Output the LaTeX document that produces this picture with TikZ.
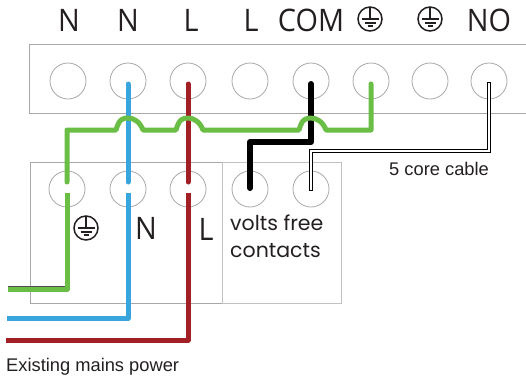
\documentclass[tikz,border=0pt]{standalone}
\usepackage{fontspec}
\setmainfont{Open Sans}
\newfontfamily\geofont{Poppins}
\newfontfamily\capfont{Liberation Sans}
\definecolor{wiregreen}{HTML}{6ABD45}
\definecolor{wireblue}{HTML}{38A5DC}
\definecolor{wirered}{HTML}{A21F26}
\definecolor{boxgray}{HTML}{A8A8A8}
\definecolor{inkgray}{HTML}{231F20}
\tikzset{
	terminal/.style={circle, draw=boxgray, line width=.8pt, minimum size=36pt, inner sep=0pt},
	termlabel/.style={text=inkgray, inner sep=0pt, xscale=.93, font=\fontsize{31}{31}\selectfont},
	captext/.style={text=inkgray, inner sep=0pt, anchor=base west, font=\capfont\fontsize{18.3}{18.3}\selectfont},
	housing/.style={draw=boxgray, line width=.9pt},
	wire/.style={line width=5pt, line join=round, line cap=round},
	earth/.pic={
		\draw[inkgray, line width=1.5pt] (0,0) circle (12);
		\draw[inkgray, line width=1.3pt] (0,-11)--(0,0) (-8.5,0)--(8.5,0) (-5.5,4)--(5.5,4) (-2.5,7)--(2.5,7);
	}
}
\newcommand{\hump}[1]{-- (#1-12,130) .. controls (#1-9,119) and (#1-5,118) .. (#1,118) .. controls (#1+6,118) and (#1+12,122) .. (#1+15,130)}
\begin{document}
\begin{tikzpicture}[x=1pt, y=-1pt]
	\useasboundingbox (0,0) rectangle (526,375);
	% housings
	\draw[housing] (526,44)--(29,44)--(29,113)--(526,113);
	\draw[housing] (30,162) rectangle (222,303);
	\draw[housing, draw=boxgray!70] (222,162) rectangle (341,303);
	% terminals
	\foreach \x/\name in {68/t1,128/t2,188/t3,250/t4,311/t5,371/t6,430/t7,489/t8}
		\node[terminal] (\name) at (\x,81) {};
	\foreach \x/\name in {67/b1,128/b2,188/b3,250/b4,311/b5}
		\node[terminal] (\name) at (\x,189) {};
	% labels
	\node[termlabel] (lab1) at (69,20) {N};
	\node[termlabel] (lab2) at (128,20) {N};
	\node[termlabel] (lab3) at (191,20) {L};
	\node[termlabel] (lab4) at (251,20) {L};
	\node[termlabel] (lab5) at (311,20) {COM};
	\node[termlabel] (lab8) at (489,20) {NO};
	\node[termlabel] (lab9) at (146,228) {N};
	\node[termlabel] (lab10) at (206,229) {L};
	\pic at (370,19) {earth};
	\pic at (430,19) {earth};
	\pic at (86,228) {earth};
	\node[text=inkgray, inner sep=0pt, anchor=west, align=left, font=\geofont\fontsize{20.5}{27}\selectfont] (volts) at (230,236) {volts free\\contacts};
	\node[captext] (cable) at (389,175) {5 core cable};
	\node[captext] (mains) at (6,371) {Existing mains power};
	% 5 core cable
	\coordinate (farend) at ([yshift=-3pt]t8.center);
	\coordinate (nearend) at ([yshift=0pt]b5.center);
	\draw[line width=4pt, black, line cap=rect] (farend) |- (311,151) -- (nearend);
	\draw[line width=2.2pt, white, line cap=rect] (farend) |- (311,151) -- (nearend);
	% black
	\draw[wire, black, line width=6pt] ([yshift=-3pt]t5.center) -- (311,142) -| ([yshift=1pt]b4.center);
	% blue
	\draw[wire, wireblue] ([yshift=-3pt]t2.center) -- ([yshift=7pt]b2.center);
	\draw[wire, wireblue, line cap=butt] ([yshift=-4pt]b2.center) -- (128,318) -- (7,318);
	% red
	\draw[wire, wirered] ([yshift=-3pt]t3.center) -- ([yshift=7pt]b3.center);
	\draw[wire, wirered, line cap=butt] ([yshift=-4pt]b3.center) -- (188,340) -- (6,340);
	% green
	\draw[wire, wiregreen] ([yshift=7pt]b1.center) -- (67,130) \hump{128} \hump{188} \hump{311} -- (371,130) -- ([yshift=-3pt]t6.center);
	\draw[line width=1.5pt, inkgray!80] (8,286.5)--(67,286.5);
	\draw[wire, wiregreen, line cap=butt] ([yshift=-4pt]b1.center) -- (67,289) -- (8,289);
\end{tikzpicture}
\end{document}
